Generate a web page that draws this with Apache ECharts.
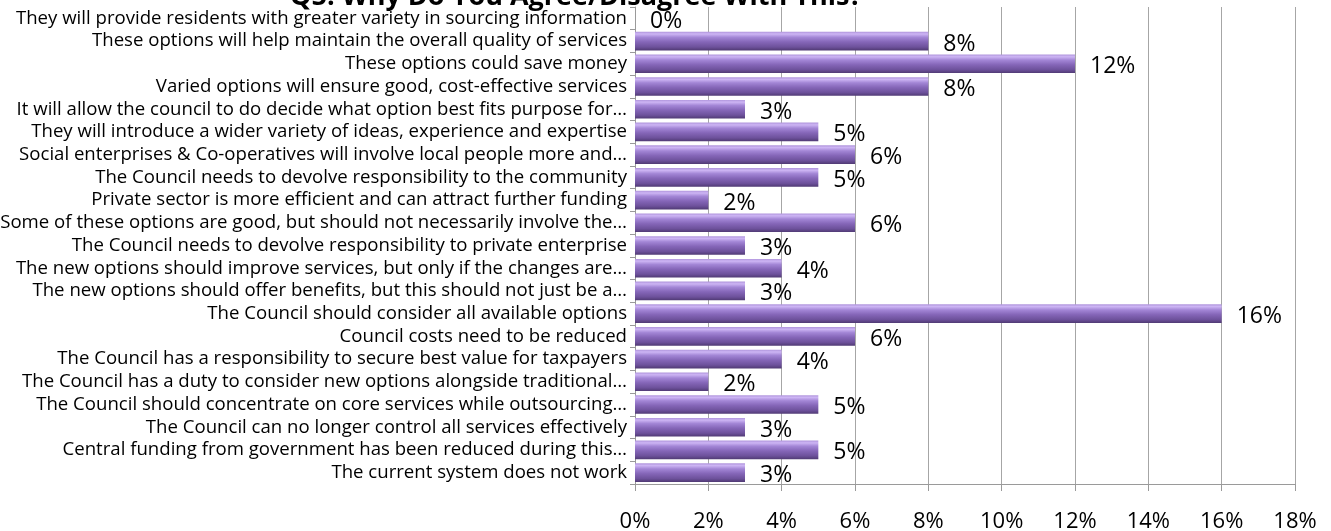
<!DOCTYPE html>
<html>
<head>
<meta charset="utf-8">
<script src="https://cdn.jsdelivr.net/npm/echarts@6/dist/echarts.min.js"></script>
<style>
html,body{margin:0;padding:0;background:#fff;}
#chart{width:1331px;height:531px;}
</style>
</head>
<body>
<div id="chart"></div>
<script>
const titleText = "Q5. Why Do You Agree/Disagree With This?";
const categories = [
  "They will provide residents with greater variety in sourcing information",
  "These options will help maintain the overall quality of services",
  "These options could save money",
  "Varied options will ensure good, cost-effective services",
  "It will allow the council to do decide what option best fits purpose for…",
  "They will introduce a wider variety of ideas, experience and expertise",
  "Social enterprises & Co-operatives will involve local people more and…",
  "The Council needs to devolve responsibility to the community",
  "Private sector is more efficient and can attract further funding",
  "Some of these options are good, but should not necessarily involve the…",
  "The Council needs to devolve responsibility to private enterprise",
  "The new options should improve services, but only if the changes are…",
  "The new options should offer benefits, but this should not just be a…",
  "The Council should consider all available options",
  "Council costs need to be reduced",
  "The Council has a responsibility to secure best value for taxpayers",
  "The Council has a duty to consider new options alongside traditional…",
  "The Council should concentrate on core services while outsourcing…",
  "The Council can no longer control all services effectively",
  "Central funding from government has been reduced during this…",
  "The current system does not work"
];
const values = [0, 8, 12, 8, 3, 5, 6, 5, 2, 6, 3, 4, 3, 16, 6, 4, 2, 5, 3, 5, 3];
const xTicks = {min: 0, max: 18, interval: 2};

const FONT = "'Open Sans', 'Liberation Sans', sans-serif";
const chart = echarts.init(document.getElementById('chart'), null, {renderer: 'canvas'});
const barGrad = new echarts.graphic.LinearGradient(0, 0, 0, 1, [
  {offset: 0, color: '#b095dc'},
  {offset: 0.12, color: '#cdb5f4'},
  {offset: 0.3, color: '#a386d6'},
  {offset: 0.55, color: '#8566b8'},
  {offset: 0.82, color: '#6d519b'},
  {offset: 1, color: '#503a74'}
]);
chart.setOption({
  animation: false,
  backgroundColor: '#ffffff',
  title: {
    text: titleText,
    left: 285, top: -21,
    textStyle: {fontFamily: FONT, fontWeight: 'bold', fontSize: 27, color: '#000'}
  },
  grid: {left: 635, right: 36, top: 7, bottom: 47, containLabel: false, outerBoundsMode: 'none'},
  xAxis: {
    type: 'value',
    min: xTicks.min, max: xTicks.max, interval: xTicks.interval,
    axisLabel: {formatter: '{value}%', fontFamily: FONT, fontSize: 22, color: '#000', margin: 27},
    axisLine: {show: true, lineStyle: {color: '#9a9a9a', width: 1}},
    axisTick: {show: true, length: 7, lineStyle: {color: '#9a9a9a'}},
    splitLine: {show: true, lineStyle: {color: '#a6a6a6', width: 1}}
  },
  yAxis: {
    type: 'category',
    data: categories,
    inverse: true,
    axisLabel: {interval: 0, fontFamily: FONT, fontSize: 18.6, color: '#000', margin: 8},
    axisLine: {show: true, lineStyle: {color: '#9a9a9a', width: 1}},
    axisTick: {show: true, length: 5, lineStyle: {color: '#9a9a9a'}}
  },
  series: [{
    type: 'bar',
    data: values,
    barWidth: '82%',
    itemStyle: {color: barGrad},
    label: {
      show: true, position: 'right', distance: 15, offset: [0, 3],
      formatter: '{c}%', fontFamily: FONT, fontSize: 23, color: '#000'
    }
  }]
});
</script>
</body>
</html>
